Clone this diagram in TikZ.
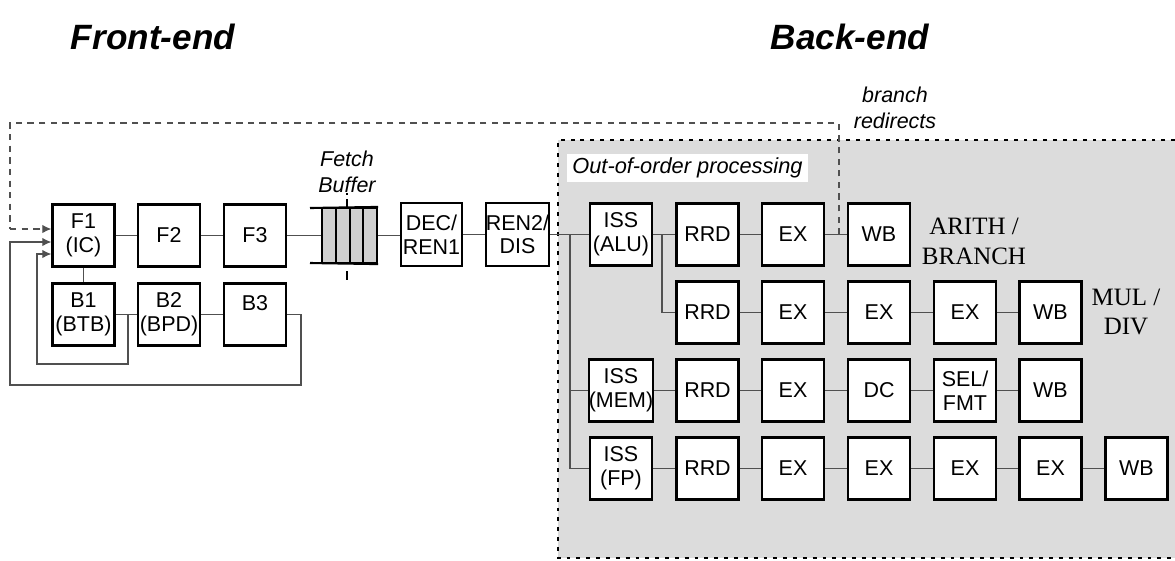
\documentclass[tikz,border=0pt]{standalone}
\usepackage{fontspec}
\setmainfont{Liberation Sans}
\newfontfamily\tms{Liberation Serif}
\usetikzlibrary{arrows.meta}
\definecolor{bgc}{HTML}{DCDCDC}
\definecolor{bufc}{HTML}{D0D0D0}
\definecolor{lnc}{HTML}{505050}
\begin{document}
\begin{tikzpicture}[x=0.01cm,y=-0.01cm,
  blk/.style={draw=black,line width=0.6pt,fill=white,minimum width=0.62cm,minimum height=0.62cm,inner sep=0pt,align=center,font=\fontsize{6.1}{6.7}\selectfont},
  conn/.style={draw=lnc,line width=0.35pt},
  fbk/.style={conn,-{Latex[length=2.6pt,width=2.4pt]}},
  redir/.style={draw=lnc,line width=0.4pt,dash pattern=on 1.8pt off 1.5pt},
  title/.style={font=\fontsize{10}{12}\selectfont\bfseries\itshape},
  note/.style={font=\fontsize{6.1}{7.4}\selectfont\itshape,align=center,inner sep=0pt},
  unit/.style={font=\tms\fontsize{7.1}{8.5}\selectfont,align=center,inner sep=0pt}]
\useasboundingbox (0,0) rectangle (1175,560);
% back-end area
\fill[bgc] (558,140) rectangle (1185,558);
\draw[line width=0.55pt,dash pattern=on 1.1pt off 1.7pt] (1185,140) -- (558,140) -- (558,558) -- (1185,558);
\node[fill=white,inner sep=0pt,minimum width=2.41cm,minimum height=0.28cm,font=\fontsize{6.2}{7}\selectfont\itshape] (ooo) at (687.5,168) {Out-of-order processing};
% titles
\node[title] (tfe) at (153,37) {Front-end};
\node[title] (tbe) at (850,37) {Back-end};
% front-end blocks
\node[blk] (f1) at (83.5,235.5) {F1\\(IC)};
\node[blk] (f2) at (169,235.5) {F2};
\node[blk] (f3) at (255,235.5) {F3};
\node[blk] (b1) at (83.5,314.5) {B1\\(BTB)};
\node[blk] (b2) at (169,314.5) {B2\\(BPD)};
\node[blk,text depth=0.22cm] (b3) at (255,314.5) {B3};
% fetch buffer
\node[draw=black,line width=0.6pt,fill=bufc,minimum width=0.55cm,minimum height=0.55cm,inner sep=0pt] (buf) at (349.5,235.5) {};
\foreach \xx in {336,350,363} \draw[line width=0.6pt] (\xx,208) -- (\xx,263);
\draw[line width=0.6pt] (310,208) -- (buf.north east);
\draw[line width=0.6pt] (310,263) -- (buf.south east);
\draw[line width=0.4pt] (347,199) -- (347,207);
\draw[line width=0.4pt] (347,193) -- (347,194.5);
\draw[line width=0.4pt] (347,271) -- (347,280);
\node[note] (fbl) at (347,172) {Fetch\\Buffer};
\node[blk,minimum width=0.61cm,minimum height=0.63cm] (dec) at (431.5,234.5) {DEC/\\REN1};
\node[blk,minimum width=0.61cm,minimum height=0.63cm] (ren) at (517.5,234.5) {REN2/\\DIS};
% back-end row 1
\node[blk] (i1) at (621,234.5) {ISS\\(ALU)};
\node[blk] (r1) at (707.5,234.5) {RRD};
\node[blk] (e1) at (793,234.5) {EX};
\node[blk] (w1) at (879,234.5) {WB};
% row 2
\node[blk] (r2) at (707.5,312.5) {RRD};
\node[blk] (e2a) at (793,312.5) {EX};
\node[blk] (e2b) at (879,312.5) {EX};
\node[blk] (e2c) at (965,312.5) {EX};
\node[blk] (w2) at (1050.5,312.5) {WB};
% row 3
\node[blk] (i3) at (621,390.5) {ISS\\(MEM)};
\node[blk] (r3) at (707.5,390.5) {RRD};
\node[blk] (e3) at (793,390.5) {EX};
\node[blk] (d3) at (879,390.5) {DC};
\node[blk] (s3) at (965,390.5) {SEL/\\FMT};
\node[blk] (w3) at (1050.5,390.5) {WB};
% row 4
\node[blk] (i4) at (621,468.5) {ISS\\(FP)};
\node[blk] (r4) at (707.5,468.5) {RRD};
\node[blk] (e4a) at (793,468.5) {EX};
\node[blk] (e4b) at (879,468.5) {EX};
\node[blk] (e4c) at (965,468.5) {EX};
\node[blk] (e4d) at (1050.5,468.5) {EX};
\node[blk] (w4) at (1136.5,468.5) {WB};
% labels
\node[unit] (la) at (974,241) {ARITH /\\BRANCH};
\node[unit] (lm) at (1126,312) {MUL /\\DIV};
\node[note] (lbr) at (895,108) {branch\\redirects};
% connectors front-end
\draw[conn] (f1) -- (f2);
\draw[conn] (f2) -- (f3);
\draw[conn] (f3) -- (buf);
\draw[conn] (buf) -- (dec.west |- buf);
\draw[conn] (dec) -- (ren);
\draw[conn] (f1) -- (b1);
\draw[conn] (b1) -- (b2);
\draw[conn] (b2) -- (b3);
\coordinate (jb) at (128,314.5);
\draw[fbk] (jb) -- (128,364) -- (37,364) -- (37,254) -- (f1.west |- 0,254);
\draw[fbk] (b3.east) -- (301,314.5) -- (301,385) -- (10,385) -- (10,242) -- (f1.west |- 0,242);
% branch redirect
\coordinate (jr) at (839,234.5);
\draw[redir] (jr) -- (839,123) -- (10,123) -- (10,229);
\draw[fbk,dash pattern=on 1.8pt off 1.5pt] (10,229) -- (f1.west |- 0,229);
% back-end connectors
\coordinate (jbus) at (570,234.5);
\draw[conn] (ren) -- (i1);
\draw[conn] (jbus) |- (i3);
\draw[conn] (jbus) |- (i4);
\draw[conn] (i1) -- (r1);
\coordinate (ja) at (662,234.5);
\draw[conn] (ja) |- (r2);
\draw[conn] (r1) -- (e1);
\draw[conn] (e1) -- (w1);
\draw[conn] (r2) -- (e2a);
\draw[conn] (e2a) -- (e2b);
\draw[conn] (e2b) -- (e2c);
\draw[conn] (e2c) -- (w2);
\draw[conn] (i3) -- (r3);
\draw[conn] (r3) -- (e3);
\draw[conn] (e3) -- (d3);
\draw[conn] (d3) -- (s3);
\draw[conn] (s3) -- (w3);
\draw[conn] (i4) -- (r4);
\draw[conn] (r4) -- (e4a);
\draw[conn] (e4a) -- (e4b);
\draw[conn] (e4b) -- (e4c);
\draw[conn] (e4c) -- (e4d);
\draw[conn] (e4d) -- (w4);
\end{tikzpicture}
\end{document}
